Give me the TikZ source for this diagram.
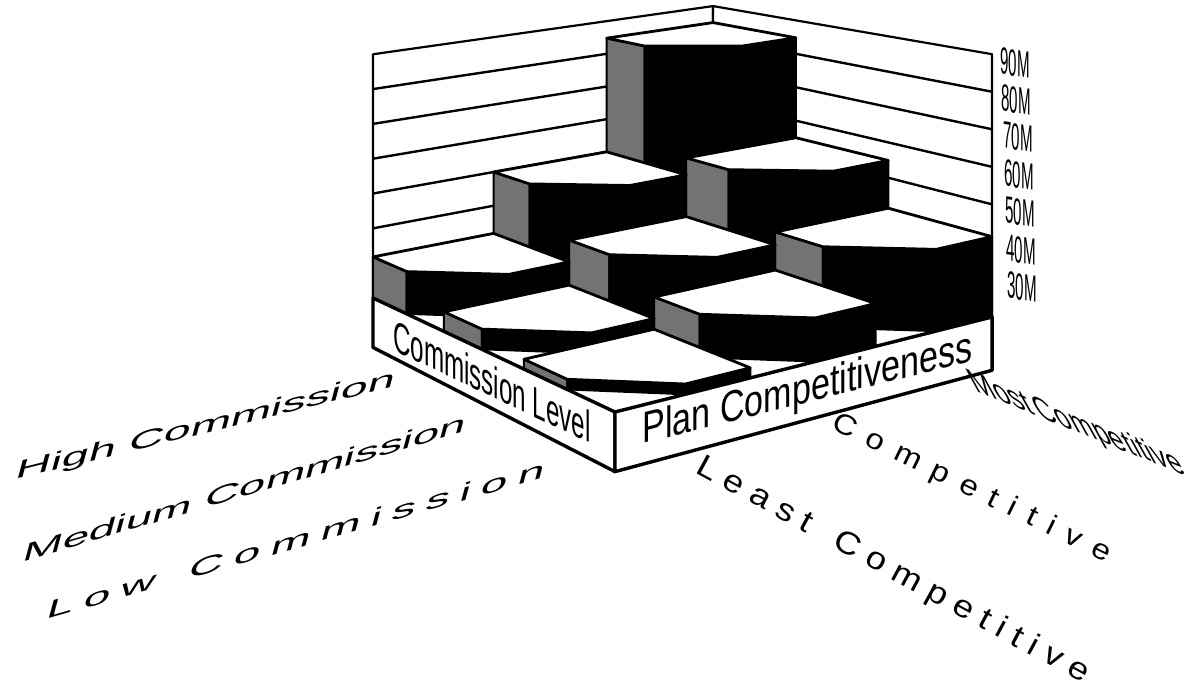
\documentclass[tikz,border=0pt]{standalone}
\usepackage{fontspec}
\setmainfont{Liberation Sans}
\newcommand{\PJ}[3]{({(615+494.8*(#1)-165.1*(#2))/(1+0.1187*(#1)+0.2062*(#2))},{(412-57.37*(#1)-52.55*(#2)-4.2*(#3))/(1+0.1187*(#1)+0.2062*(#2))})}
\tikzset{
  wallface/.style={fill=white, draw=black, line width=1.1pt, line join=round},
  gridln/.style={draw=black, line width=1.2pt},
  bartop/.style={fill=white, draw=black, line width=1.4pt, line join=round},
  barside/.style={fill=black!55, draw=black, line width=1pt, line join=round},
  barfront/.style={fill=black, draw=black, line width=1pt, line join=round},
  plinthface/.style={fill=white, draw=black, line width=1.7pt, line join=round},
  ticklbl/.style={font=\fontsize{18}{20}\selectfont, inner sep=0pt, transform shape},
  skewlbl/.style={inner sep=0pt, transform shape}
}
\newcommand{\mybar}[3]{%
  \pgfmathsetmacro\qA{#1/3}%
  \pgfmathsetmacro\qB{(#1+1)/3}%
  \pgfmathsetmacro\qC{#1/3+0.17}%
  \pgfmathsetmacro\rA{#2/3}%
  \pgfmathsetmacro\rB{(#2+1)/3}%
  \pgfmathsetmacro\rC{#2/3+0.17}%
  \path[barside] \PJ{\qA}{\rB}{0} -- \PJ{\qA}{\rC}{0} -- \PJ{\qA}{\rC}{#3} -- \PJ{\qA}{\rB}{#3} -- cycle;
  \path[barfront] \PJ{\qA}{\rC}{0} -- \PJ{\qC}{\rA}{0} -- \PJ{\qB}{\rA}{0} -- \PJ{\qB}{\rA}{#3} -- \PJ{\qC}{\rA}{#3} -- \PJ{\qA}{\rC}{#3} -- cycle;
  \path[bartop] \PJ{\qA}{\rB}{#3} -- \PJ{\qA}{\rC}{#3} -- \PJ{\qC}{\rA}{#3} -- \PJ{\qB}{\rA}{#3} -- \PJ{\qB}{\rB}{#3} -- cycle;
}
\newcommand{\gapL}{\kern2.2pt}
\newcommand{\gapC}{\kern6pt}
\newcommand{\gapS}{\kern4.3pt}
\begin{document}
\begin{tikzpicture}[x=0.5pt,y=-0.5pt]
\useasboundingbox (0,0) rectangle (1189,688);
\fill[white] (0,0) rectangle (1189,688);

% walls
\path[wallface] \PJ{0}{1}{0} -- \PJ{0}{1}{70} -- \PJ{1}{1}{70} -- \PJ{1}{1}{0} -- cycle;
\path[wallface] \PJ{1}{1}{0} -- \PJ{1}{1}{70} -- \PJ{1}{0}{70} -- \PJ{1}{0}{0} -- cycle;
\foreach \h in {10,20,...,60}{
  \draw[gridln] \PJ{0}{1}{\h} -- \PJ{1}{1}{\h} -- \PJ{1}{0}{\h};
}

% bars, back to front
\mybar{2}{2}{64.8}
\mybar{2}{1}{34.9}
\mybar{2}{0}{21.4}
\mybar{1}{2}{30}
\mybar{1}{1}{17.9}
\mybar{1}{0}{11}
\mybar{0}{2}{11.8}
\mybar{0}{1}{5.3}
\mybar{0}{0}{2.5}

% plinth
\path[plinthface] \PJ{0}{1}{0} -- \PJ{0}{0}{0} -- \PJ{0}{0}{-14.2} -- \PJ{0}{1}{-14.2} -- cycle;
\path[plinthface] \PJ{0}{0}{0} -- \PJ{1}{0}{0} -- \PJ{1}{0}{-14.2} -- \PJ{0}{0}{-14.2} -- cycle;

% plinth texts
\begin{scope}[shift={(492,381)}]
\node[skewlbl, cm={0.55,-0.259,0,1,(0,0)}, font=\fontsize{22}{24}\selectfont] (comlevel) at (0,0) {Commission Level};
\end{scope}
\begin{scope}[shift={(807.5,391)}]
\node[skewlbl, cm={0.775,0.195,0,1,(0,0)}, font=\fontsize{22}{24}\selectfont] (plancomp) at (0,0) {Plan Competitiveness};
\end{scope}

% value axis labels
\foreach \t/\xx/\yy in {90M/1015/63, 80M/1016/100, 70M/1018/137, 60M/1019/175, 50M/1020/212, 40M/1021/250, 30M/1022/287}{
  \begin{scope}[shift={(\xx,\yy)}]
  \node[ticklbl, cm={0.42,-0.06,0,1.05,(0,0)}] (tick\t) at (0,0) {\t};
  \end{scope}
}

% commission labels
\begin{scope}[shift={(204,433.5)}]
\node[skewlbl, anchor=base, cm={2.413,0.593,0.349,1.304,(0,0)}, font=\fontsize{10}{12}\selectfont] (lhigh) at (0,0) {High Commission};
\end{scope}
\begin{scope}[shift={(243,497)}]
\node[skewlbl, anchor=base, cm={2.369,0.697,0.349,1.304,(0,0)}, font=\fontsize{10}{12}\selectfont] (lmed) at (0,0) {Medium Commission};
\end{scope}
\begin{scope}[shift={(294.5,549)}]
\node[skewlbl, anchor=base, cm={2.376,0.677,0.349,1.304,(0,0)}, font=\fontsize{10}{12}\selectfont] (llow) at (0,0) {L\gapL o\gapL w\gapL\ \gapL C\gapL o\gapL m\gapL m\gapL i\gapL s\gapL s\gapL i\gapL o\gapL n};
\end{scope}

% competitiveness labels
\begin{scope}[shift={(1077,425)}]
\node[skewlbl, cm={1.392,-0.559,-0.95,1.72,(0,0)}, font=\fontsize{10}{12}\selectfont] (lmost) at (0,0) {Most\kern1.5pt Competitive};
\end{scope}
\begin{scope}[shift={(971.5,489)}]
\node[skewlbl, cm={0.989,-0.484,0.418,0.854,(0,0)}, font=\fontsize{15}{17}\selectfont] (lcomp) at (0,0) {C\gapC o\gapC m\gapC p\gapC e\gapC t\gapC i\gapC t\gapC i\gapC v\gapC e};
\end{scope}
\begin{scope}[shift={(893,571)}]
\node[skewlbl, cm={0.967,-0.525,0.453,0.835,(0,0)}, font=\fontsize{16.5}{18}\selectfont] (lleast) at (0,0) {L\gapS e\gapS a\gapS s\gapS t\gapS\ \gapS C\gapS o\gapS m\gapS p\gapS e\gapS t\gapS i\gapS t\gapS i\gapS v\gapS e};
\end{scope}
\end{tikzpicture}
\end{document}
